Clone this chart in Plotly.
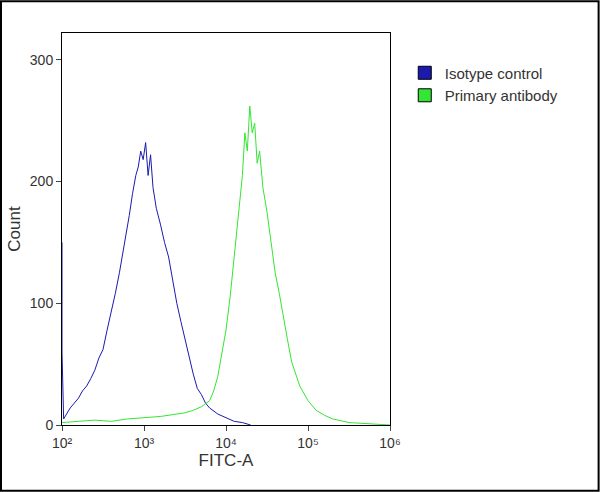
import plotly.graph_objects as go

# log10 of FITC-A and counts
iso_x = [2.0, 2.0, 2.02, 2.06, 2.1, 2.15, 2.2, 2.25, 2.3, 2.35, 2.4, 2.45, 2.5, 2.55, 2.6, 2.65,
         2.7, 2.74, 2.78, 2.82, 2.86, 2.9, 2.93, 2.96, 2.99, 3.02, 3.05, 3.08, 3.11, 3.15, 3.2,
         3.25, 3.3, 3.35, 3.4, 3.45, 3.5, 3.55, 3.6, 3.65, 3.7, 3.75, 3.8, 3.9, 4.0, 4.1, 4.2, 4.3]
iso_y = [150, 60, 5, 10, 14, 18, 22, 28, 32, 38, 45, 55, 62, 78, 92, 108,
         125, 140, 158, 172, 190, 205, 212, 225, 218, 232, 205, 222, 195, 178, 165,
         150, 138, 118, 100, 85, 70, 55, 42, 30, 25, 18, 14, 9, 6, 3, 2, 0]

ab_x = [2.0, 2.2, 2.4, 2.6, 2.8, 3.0, 3.2, 3.4, 3.5, 3.6, 3.7, 3.8, 3.85, 3.9, 3.95, 4.0,
        4.05, 4.1, 4.15, 4.2, 4.23, 4.26, 4.29, 4.32, 4.35, 4.38, 4.41, 4.45, 4.5, 4.55,
        4.6, 4.65, 4.7, 4.75, 4.8, 4.9, 5.0, 5.1, 5.2, 5.3, 5.5, 5.7, 6.0]
ab_y = [2, 3, 4, 3, 5, 6, 7, 9, 10, 12, 15, 20, 28, 40, 58, 78,
        105, 138, 170, 205, 240, 225, 262, 240, 248, 215, 225, 195, 175, 150,
        125, 108, 88, 70, 52, 32, 20, 12, 8, 5, 2, 1, 0]

tick_vals = [2, 3, 4, 5, 6]
tick_text = ["10²", "10³", "10⁴", "10⁵", "10⁶"]

fig = go.Figure()
fig.add_trace(go.Scatter(x=[10 ** v for v in iso_x], y=iso_y, mode="lines",
                         line=dict(color="#1a1ab0", width=1), showlegend=False))
fig.add_trace(go.Scatter(x=[10 ** v for v in ab_x], y=ab_y, mode="lines",
                         line=dict(color="#33e633", width=1), showlegend=False))
fig.add_trace(go.Scatter(x=[None], y=[None], mode="markers", name="Isotype control",
                         marker=dict(symbol="square", size=13, color="#1a1ab0",
                                     line=dict(color="black", width=1))))
fig.add_trace(go.Scatter(x=[None], y=[None], mode="markers", name="Primary antibody",
                         marker=dict(symbol="square", size=13, color="#33e633",
                                     line=dict(color="black", width=1))))

fig.update_layout(
    width=600, height=492,
    margin=dict(l=62, r=210, t=33, b=67),
    paper_bgcolor="white", plot_bgcolor="white",
    font=dict(family="Liberation Sans, Arial", size=14, color="#333"),
    legend=dict(x=1.045, y=0.94, xanchor="left", yanchor="top", tracegroupgap=0,
                font=dict(size=15), itemwidth=30, bgcolor="rgba(0,0,0,0)"),
    shapes=[dict(type="rect", xref="paper", yref="paper", x0=-0.186, x1=1.636,
                 y0=-0.168, y1=1.081, line=dict(color="black", width=2))],
)
fig.update_xaxes(type="log", range=[2, 6], tickvals=[10 ** v for v in tick_vals],
                 ticktext=tick_text, showgrid=False, showline=True, linecolor="black",
                 mirror=True, ticks="outside", title=dict(text="FITC-A", standoff=2))
fig.update_yaxes(range=[0, 322], tickvals=[0, 100, 200, 300], showgrid=False,
                 showline=True, linecolor="black", mirror=True, ticks="outside",
                 zeroline=False, title=dict(text="Count", standoff=4))

fig.write_html("out.html", config={"displayModeBar": False},
               post_script="document.body.style.margin='0';")
